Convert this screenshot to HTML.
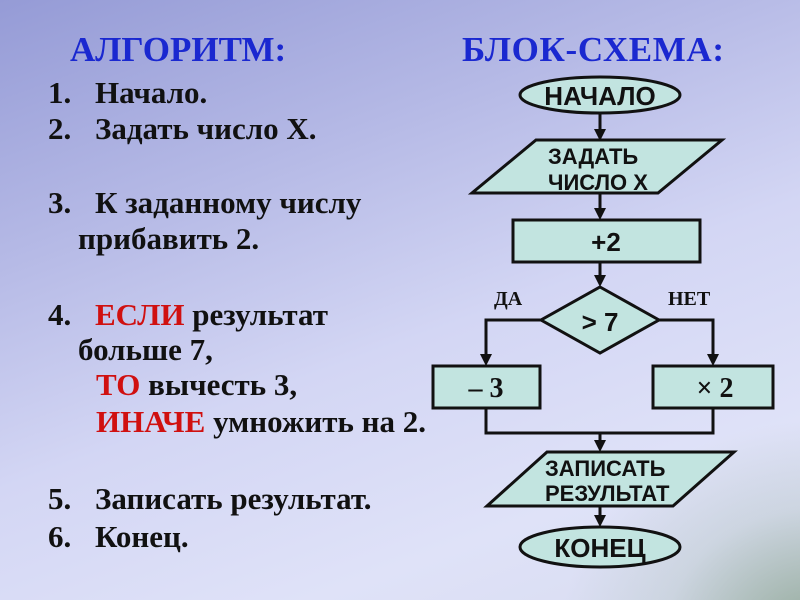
<!DOCTYPE html>
<html><head><meta charset="utf-8"><style>
html,body{margin:0;padding:0;width:800px;height:600px;overflow:hidden}
body{background:
radial-gradient(ellipse 260px 220px at 820px 640px, rgba(120,150,120,0.75), rgba(170,190,180,0.3) 60%, rgba(220,225,245,0) 100%),
linear-gradient(160deg,#959bd6 0%,#b6bae6 30%,#d3d6f4 55%,#dfe2f8 80%,#d8dcf0 100%);}
svg{position:absolute;left:0;top:0}
.t{font-family:"Liberation Serif",serif;font-weight:bold;font-size:31px;fill:#111}
.r{fill:#d01010}
.h{font-family:"Liberation Serif",serif;font-weight:bold;font-size:35px;fill:#1a28d0}
.a{font-family:"Liberation Sans",sans-serif;font-weight:bold;fill:#111}
</style></head><body>
<svg width="800" height="600" viewBox="0 0 800 600">
<text class="h" x="70" y="61">АЛГОРИТМ:</text>
<text class="h" x="462" y="61" textLength="262">БЛОК-СХЕМА:</text>
<text class="t" x="48" y="103">1.</text><text class="t" x="95" y="103">Начало.</text>
<text class="t" x="48" y="139">2.</text><text class="t" x="95" y="139">Задать число Х.</text>
<text class="t" x="48" y="213">3.</text><text class="t" x="95" y="213">К заданному числу</text>
<text class="t" x="78" y="249">прибавить 2.</text>
<text class="t" x="48" y="325">4.</text><text class="t" x="95" y="325"><tspan class="r">ЕСЛИ</tspan> результат</text>
<text class="t" x="78" y="360">больше 7,</text>
<text class="t" x="96" y="395"><tspan class="r">ТО</tspan> вычесть 3,</text>
<text class="t" x="96" y="432"><tspan class="r">ИНАЧЕ</tspan> умножить на 2.</text>
<text class="t" x="48" y="509">5.</text><text class="t" x="95" y="509">Записать результат.</text>
<text class="t" x="48" y="547">6.</text><text class="t" x="95" y="547">Конец.</text>

<g stroke="#111" stroke-width="3" fill="none">
<line x1="600" y1="113" x2="600" y2="132"/>
<line x1="600" y1="193" x2="600" y2="212"/>
<line x1="600" y1="262" x2="600" y2="279"/>
<polyline points="541,320 486,320 486,357"/>
<polyline points="659,320 713,320 713,357"/>
<polyline points="486,408 486,433 713,433 713,408"/>
<line x1="600" y1="433" x2="600" y2="444"/>
<line x1="600" y1="506" x2="600" y2="519"/>
</g>
<g fill="#111">
<polygon points="594,129 606,129 600,141"/>
<polygon points="594,208 606,208 600,220"/>
<polygon points="594,275 606,275 600,287"/>
<polygon points="480,354 492,354 486,366"/>
<polygon points="707,354 719,354 713,366"/>
<polygon points="594,440 606,440 600,452"/>
<polygon points="594,515 606,515 600,527"/>
</g>
<g stroke="#111" stroke-width="3" fill="#c2e4e0">
<ellipse cx="600" cy="95" rx="80" ry="18"/>
<polygon points="536,140 722,140 658,193 472,193"/>
<rect x="513" y="220" width="187" height="42"/>
<polygon points="600,287 659,320 600,353 541,320"/>
<rect x="433" y="366" width="107" height="42"/>
<rect x="653" y="366" width="120" height="42"/>
<polygon points="547,452 734,452 673,506 487,506"/>
<ellipse cx="600" cy="547" rx="80" ry="20"/>
</g>
<text class="a" x="600" y="105" style="font-size:26px" text-anchor="middle">НАЧАЛО</text>
<text class="a" x="548" y="164" style="font-size:22px">ЗАДАТЬ</text>
<text class="a" x="548" y="190" style="font-size:22px">ЧИСЛО X</text>
<text class="a" x="606" y="251" style="font-size:26px" text-anchor="middle">+2</text>
<text class="a" x="600" y="331" style="font-size:26px" text-anchor="middle">&gt; 7</text>
<text class="t" x="486" y="397" style="font-size:28px" text-anchor="middle">– 3</text>
<text class="t" x="715" y="397" style="font-size:28px" text-anchor="middle">× 2</text>
<text class="a" x="545" y="476" style="font-size:22px">ЗАПИСАТЬ</text>
<text class="a" x="545" y="501" style="font-size:22px">РЕЗУЛЬТАТ</text>
<text class="a" x="600" y="557" style="font-size:26px" text-anchor="middle">КОНЕЦ</text>
<text class="t" x="494" y="305" style="font-size:20px">ДА</text>
<text class="t" x="668" y="305" style="font-size:20px">НЕТ</text>
</svg>
</body></html>
